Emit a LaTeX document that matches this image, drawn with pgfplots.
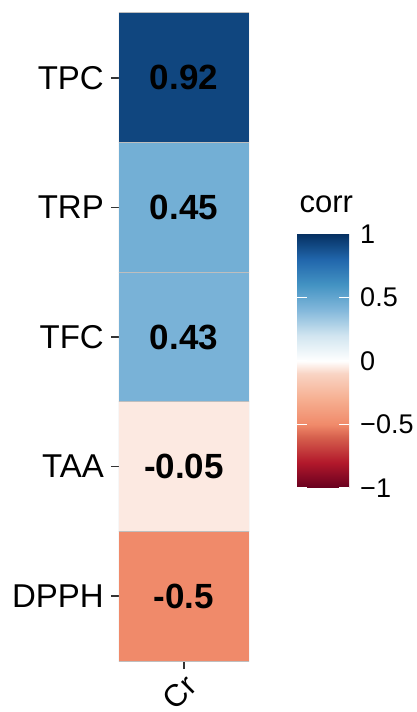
\documentclass[border=0pt]{standalone}
\usepackage{pgfplots}
\usepackage{pgfplotstable}
\pgfplotsset{compat=1.18}
\usepackage{fontspec}
\setmainfont{Liberation Sans}

\definecolor{celledge}{RGB}{190,190,190}
\definecolor{tickgray}{RGB}{51,51,51}

% corner points of each cell, with its correlation
\pgfplotstableread{
x y c
-0.5 -0.5 -0.5
0.5 -0.5 -0.5
0.5 0.5 -0.5
-0.5 0.5 -0.5
-0.5 0.5 -0.05
0.5 0.5 -0.05
0.5 1.5 -0.05
-0.5 1.5 -0.05
-0.5 1.5 0.43
0.5 1.5 0.43
0.5 2.5 0.43
-0.5 2.5 0.43
-0.5 2.5 0.45
0.5 2.5 0.45
0.5 3.5 0.45
-0.5 3.5 0.45
-0.5 3.5 0.92
0.5 3.5 0.92
0.5 4.5 0.92
-0.5 4.5 0.92
}\cells

\pgfplotstableread{
x y lab
0 0 -0.5
0 1 -0.05
0 2 0.43
0 3 0.45
0 4 0.92
}\labels

\begin{document}
\begin{tikzpicture}[x=1pt,y=1pt]
\useasboundingbox (0,0) rectangle (417,712);
\begin{axis}[
  at={(119pt,51pt)}, anchor=south west,
  scale only axis, width=130pt, height=648pt,
  xmin=-0.5, xmax=0.5, ymin=-0.5, ymax=4.5,
  axis line style={draw=none},
  xtick={0}, xticklabels={Cr},
  ytick={0,1,2,3,4}, yticklabels={DPPH,TAA,TFC,TRP,TPC},
  xtick pos=bottom, ytick pos=left,
  tick align=outside, major tick length=8pt,
  tick style={draw=tickgray, line width=1.5pt},
  yticklabel style={font=\fontsize{33}{38}\selectfont, text=black, inner sep=2pt, xshift=-5pt},
  xticklabel style={font=\fontsize{31}{35}\selectfont, xshift=8pt, yshift=-11pt, rotate=45, anchor=east, inner sep=1pt},
  colormap={rdbu}{rgb255(0)=(103,0,31) rgb255(20)=(178,24,43) rgb255(40)=(214,96,77) rgb255(50)=(240,138,106) rgb255(70)=(246,175,145) rgb255(90)=(249,212,196) rgb255(100)=(255,255,255) rgb255(120)=(209,229,240) rgb255(140)=(131,184,219) rgb255(160)=(67,147,195) rgb255(180)=(33,102,172) rgb255(200)=(5,48,97)},
  point meta min=-1, point meta max=1,
  colorbar,
  /pgfplots/colorbar/width=52pt,
  colorbar style={
    scale only axis,
    at={(parent axis.south east)}, anchor=south west,
    xshift=39.5pt, yshift=173pt,
    width=52pt, height=254pt,
    ymin=-1, ymax=1,
    ytick={-1,-0.5,0,0.5,1},
    yticklabels={−1,−0.5,0,0.5,1},
    ytick pos=both, yticklabel pos=right,
    tick align=inside, ytick align=inside, major tick length=10pt,
    tick style={draw=white, line width=1pt},
    ytick style={draw=white, line width=1pt},
    axis line style={draw=none},
    yticklabel style={font=\fontsize{27}{31}\selectfont, inner sep=2pt, xshift=9pt},
    title={corr},
    title style={at={(rel axis cs:0,1)}, anchor=base west, yshift=15pt, xshift=-1pt, font=\fontsize{31}{35}\selectfont},
  },
]
\addplot[patch, patch type=rectangle, shader=faceted, faceted color=celledge, line width=1pt, point meta=explicit]
  table[x=x, y=y, meta=c] {\cells};
\addplot[only marks, mark=none, nodes near coords, point meta=explicit symbolic,
  nodes near coords align=center,
  every node near coord/.style={font=\bfseries\fontsize{35}{40}\selectfont, anchor=center, text=black}]
  table[x=x, y=y, meta=lab] {\labels};
\end{axis}
\end{tikzpicture}
\end{document}
